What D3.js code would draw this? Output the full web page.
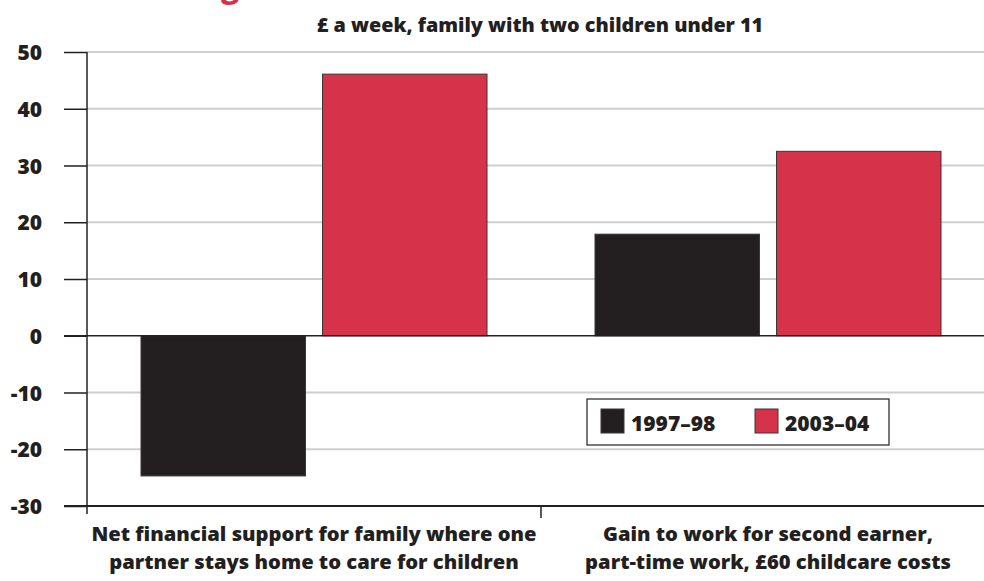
<!DOCTYPE html>
<html><head><meta charset="utf-8">
<script src="https://cdn.jsdelivr.net/npm/d3@7"></script>
<style>body{margin:0;background:#fff}svg{display:block}text{font-family:"Open Sans",Lato,sans-serif;font-weight:800;fill:#231f20}</style>
</head><body>
<svg id="c" width="984" height="581"></svg>
<script>
const categories = [["Net financial support for family where one","partner stays home to care for children"],["Gain to work for second earner,","part-time work, £60 childcare costs"]];
const seriesNames = ["1997–98","2003–04"];
const series1997 = [-24.7, 17.9];
const series2003 = [46.1, 32.5];
const yTicks = [50,40,30,20,10,0,-10,-20,-30];
const colors = ["#231f20","#d6334a"];

const svg = d3.select("#c");
const x0 = d3.scaleBand().domain([0,1]).range([87,995]).paddingInner(0).paddingOuter(0);
const x1 = d3.scaleBand().domain([0,1]).range([54,400]).paddingInner(0.094);
const y = d3.scaleLinear().domain([-30,50]).range([506,52]);

// title fragment (cut off at top of the picture)
svg.append("text").attr("x",221).attr("y",-2.5).style("font-size","30px").style("fill","#d6334a").text("g");
svg.append("text").attr("x",540).attr("y",32).attr("text-anchor","middle").style("font-size","19.8px").text("£ a week, family with two children under 11");

// gridlines
svg.append("g").selectAll("line").data(yTicks.filter(d=>d!==0&&d!==-30)).join("line")
  .attr("x1",87).attr("x2",995).attr("y1",d=>y(d)).attr("y2",d=>y(d)).attr("stroke","#cfcfcf").attr("stroke-width",2);

// y axis
const ya = svg.append("g").attr("transform","translate(87,0)").call(d3.axisLeft(y).tickValues(yTicks).tickFormat(d=>String(d)).tickSize(23).tickPadding(22));
ya.select(".domain").attr("stroke","#231f20").attr("stroke-width",1.5).attr("d","M0,52V514");
ya.selectAll(".tick line").attr("stroke","#231f20").attr("stroke-width",1.5);
ya.selectAll(".tick text").style("font-size","21px").style("font-family","'Open Sans',Lato,sans-serif").attr("fill","#231f20").attr("dy","0.36em");

// bars
const data = [series1997, series2003];
categories.forEach((c,i)=>{
  data.forEach((s,j)=>{
    const v = s[i];
    svg.append("rect").attr("x",x0(i)+x1(j)).attr("width",x1.bandwidth())
      .attr("y",y(Math.max(0,v))).attr("height",Math.abs(y(v)-y(0)))
      .attr("fill",colors[j]).attr("stroke","#3a3536").attr("stroke-width",1);
  });
});

// zero line & bottom axis
svg.append("line").attr("x1",64).attr("x2",995).attr("y1",y(0)).attr("y2",y(0)).attr("stroke","#231f20").attr("stroke-width",1.5);
svg.append("line").attr("x1",64).attr("x2",995).attr("y1",y(-30)).attr("y2",y(-30)).attr("stroke","#231f20").attr("stroke-width",2);
svg.append("line").attr("x1",x0(1)).attr("x2",x0(1)).attr("y1",y(-30)).attr("y2",y(-30)+12).attr("stroke","#231f20").attr("stroke-width",1.5);

// category labels
categories.forEach((c,i)=>{
  const t = svg.append("text").attr("text-anchor","middle").style("font-size","20.2px");
  c.forEach((line,k)=>t.append("tspan").attr("x",x0(i)+x0.bandwidth()/2).attr("y",541+k*28).text(line));
});

// legend
const lg = svg.append("g");
lg.append("rect").attr("x",587).attr("y",399).attr("width",302).attr("height",46).attr("fill","#fff").attr("stroke","#231f20").attr("stroke-width",1.2);
const lx = [601,755];
seriesNames.forEach((n,j)=>{
  lg.append("rect").attr("x",lx[j]).attr("y",409).attr("width",23).attr("height",24).attr("fill",colors[j]).attr("stroke","#3a3536").attr("stroke-width",1);
  lg.append("text").attr("x",lx[j]+30).attr("y",431).style("font-size","21px").text(n);
});
</script>
</body></html>
